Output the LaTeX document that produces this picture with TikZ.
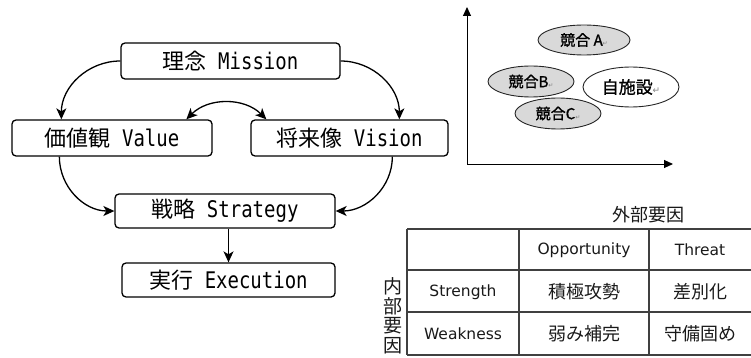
\documentclass[tikz,border=0pt]{standalone}
\usepackage{fontspec}
\setmainfont{DejaVu Sans}
\newfontfamily\jp{Noto Sans CJK JP}
\newfontfamily\jpb[FakeBold=1.2]{Noto Sans CJK JP}
\newfontfamily\mono[FakeStretch=0.83,Scale=1.04]{DejaVu Sans Mono}
\newfontfamily\sym{DejaVu Sans}
\usetikzlibrary{arrows.meta,shapes.geometric,calc}
\definecolor{ellgray}{HTML}{D9D9D9}
\definecolor{tline}{HTML}{404040}
\newcommand{\bt}[2]{{\jp #1}{\mono\ #2}}
\newcommand{\retmark}[1]{{\sym\fontsize{#1}{#1}\selectfont\textcolor{gray}{↵}}}
\begin{document}
\begin{tikzpicture}[x=1pt,y=1pt,
  box/.style={draw, line width=1.3pt, rounded corners=4pt, inner sep=0pt,
    font=\fontsize{22}{22}\selectfont},
  arr/.style={line width=1.3pt, -{Stealth[length=11pt,width=10pt,inset=3pt]}},
  darr/.style={line width=1.3pt, {Stealth[length=11pt,width=10pt,inset=3pt]}-{Stealth[length=11pt,width=10pt,inset=3pt]}},
  axis/.style={line width=1pt, -{Triangle[length=9pt,width=8pt]}},
  ell/.style={ellipse, draw=black!85, line width=0.9pt, inner sep=0pt,
    font=\jpb\fontsize{15}{15}\selectfont},
  tl/.style={draw=tline, line width=1.1pt},
  tlat/.style={font=\fontsize{15.5}{15.5}\selectfont, text=black!90},
  tjp/.style={font=\jp\fontsize{18}{18}\selectfont, text=black!90}
]
\useasboundingbox (0,0) rectangle (751,-358);

% left flow diagram
\node[box, minimum width=219pt, minimum height=36pt] (mission) at (230.5,-61) {\bt{理念}{Mission}};
\node[box, minimum width=200pt, minimum height=36pt] (value) at (112,-138) {\bt{価値観}{Value}};
\node[box, minimum width=197pt, minimum height=36pt] (vision) at (349.5,-138) {\bt{将来像}{Vision}};
\node[box, minimum width=220pt, minimum height=34pt] (strategy) at (225,-211) {\bt{戦略}{Strategy}};
\node[box, minimum width=213pt, minimum height=34pt] (execution) at (228.5,-280) {\bt{実行}{Execution}};

\draw[arr] (mission.west) to[out=180,in=90] ($(value.north west)+(50,0)$);
\draw[arr] (mission.east) to[out=0,in=90] ($(vision.north west)+(149,0)$);
\draw[arr] ($(value.south west)+(48,0)$) to[out=-90,in=180] (strategy.west);
\draw[arr] ($(vision.south west)+(142,0)$) to[out=-90,in=0] (strategy.east);
\draw[darr] ($(value.north west)+(175,0)$) to[out=45,in=135] ($(vision.north west)+(16,0)$);
\draw[arr] (strategy.south -| execution.north) -- (execution.north);

% positioning chart
\coordinate (o) at (467,-164);
\coordinate (ytop) at (467,-7);
\coordinate (xend) at (673,-164);
\draw[axis] (o) -- (ytop);
\draw[axis] (o) -- (xend);

\node[ell, fill=ellgray, minimum width=92pt, minimum height=30pt] (ca) at (584,-40) {競合 A\retmark{6}};
\node[ell, fill=ellgray, minimum width=86pt, minimum height=31pt] (cb) at (531,-81.5) {競合B\retmark{6}};
\node[ell, fill=ellgray, minimum width=86pt, minimum height=31pt] (cc) at (558,-113.5) {競合C\retmark{6}};
\node[ell, fill=white, minimum width=96pt, minimum height=40pt, font=\jpb\fontsize{17}{17}\selectfont] (own) at (631,-87) {自施設\retmark{9}};

% SWOT table
\draw[tl] (407,-229) -- (751,-229);
\draw[tl] (407,-270) -- (751,-270);
\draw[tl] (407,-312) -- (751,-312);
\draw[tl] (407,-355) -- (751,-355);
\draw[tl] (407,-229) -- (407,-355);
\draw[tl] (519,-229) -- (519,-355);
\draw[tl] (649,-229) -- (649,-355);

\node[tjp] (ext) at (648,-215) {外部要因};
\node[tjp, align=center, font=\jp\fontsize{19}{19.5}\selectfont, inner sep=0pt] (int) at (393,-316) {内\\部\\要\\因};
\node[tlat] (opp) at (584,-250) {Opportunity};
\node[tlat] (thr) at (700,-250) {Threat};
\node[tlat] (str) at (463,-292) {Strength};
\node[tlat] (wea) at (463,-334) {Weakness};
\node[tjp] (s1) at (584,-292) {積極攻勢};
\node[tjp] (s2) at (700,-292) {差別化};
\node[tjp] (w1) at (584,-334) {弱み補完};
\node[tjp] (w2) at (700,-334) {守備固め};
\end{tikzpicture}
\end{document}
